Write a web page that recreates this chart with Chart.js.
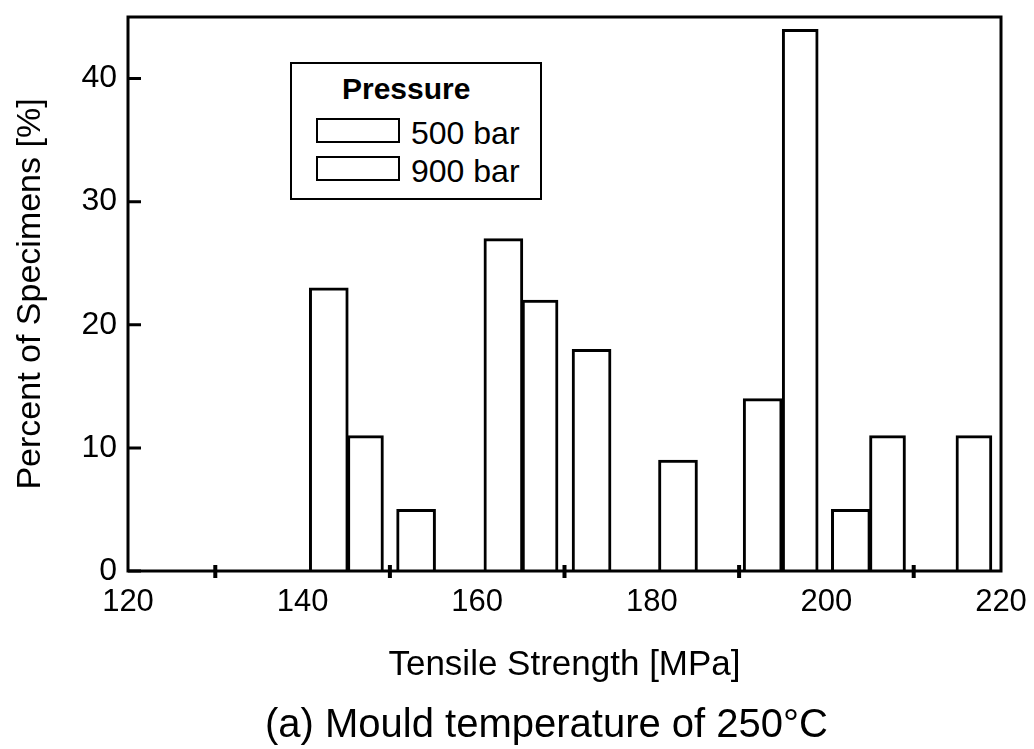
<!DOCTYPE html>
<html>
<head>
<meta charset="utf-8">
<script src="https://cdn.jsdelivr.net/npm/chart.js@4/dist/chart.umd.min.js"></script>
<style>
  body { margin: 0; background: #fff; }
  #wrap { position: relative; width: 1034px; height: 749px; font-family: 'Liberation Sans', Arial, sans-serif; color: #000; }
  #legend {
    position: absolute; left: 290px; top: 62px; width: 248px; height: 134px;
    border: 2px solid #000; background: #fff;
  }
  #legend .ttl { position: absolute; left: 50px; top: 10px; font-size: 30px; line-height: 30px; font-weight: bold; }
  #legend .box { position: absolute; left: 24px; width: 80px; height: 21px; border: 2px solid #000; background: #fff; }
  #legend .lbl { position: absolute; left: 119px; font-size: 32px; line-height: 32px; }
  #caption { position: absolute; left: 265px; top: 703px; font-size: 40px; line-height: 40px; white-space: nowrap; }
</style>
</head>
<body>
<div id="wrap">
  <canvas id="chart" width="1034" height="749"></canvas>
  <div id="legend"></div>
  <div id="caption"></div>
</div>
<script>
// Tensile strength histogram, mould temperature 250 C
const captionText = '(a) Mould temperature of 250\u00b0C';
const legendTitle = 'Pressure';
const seriesNames = ['500 bar', '900 bar'];

// bar centres [MPa] and share of specimens [%]
const x500 = [143.0, 153.0, 163.0, 173.1, 183.0, 192.7, 202.8];
const pct500 = [23, 5, 27, 18, 9, 14, 5];
const x900 = [147.2, 167.2, 197.0, 207.0, 216.9];
const pct900 = [11, 22, 44, 11, 11];

const xMinorTicks = [130, 150, 170, 190, 210];

const FONT = "'Liberation Sans', Arial, sans-serif";
Chart.defaults.color = '#000';
Chart.defaults.font.family = FONT;

// frame round the plot, inward y ticks, crossing minor x ticks
const frameAndTicks = {
  id: 'frameAndTicks',
  afterDatasetsDraw(chart) {
    const { ctx, chartArea: a, scales: { x, y } } = chart;
    ctx.save();
    ctx.strokeStyle = '#000';
    ctx.lineWidth = 3;
    ctx.strokeRect(a.left, a.top, a.right - a.left, a.bottom - a.top);
    ctx.beginPath();
    y.ticks.forEach(t => {
      const py = y.getPixelForValue(t.value);
      ctx.moveTo(a.left, py);
      ctx.lineTo(a.left + 13, py);
    });
    ctx.stroke();
    ctx.lineWidth = 4;
    ctx.beginPath();
    xMinorTicks.forEach(v => {
      const px = x.getPixelForValue(v);
      ctx.moveTo(px, a.bottom - 6);
      ctx.lineTo(px, a.bottom + 7);
    });
    ctx.stroke();
    ctx.restore();
  }
};

function barSet(label, xs, ys, thickness) {
  return {
    label: label,
    data: xs.map((v, i) => ({ x: v, y: ys[i] })),
    backgroundColor: '#fff',
    borderColor: '#000',
    borderWidth: 3,
    borderSkipped: 'bottom',
    barThickness: thickness,
    grouped: false
  };
}

const chart = new Chart(document.getElementById('chart'), {
  type: 'bar',
  data: {
    datasets: [
      barSet(seriesNames[0], x500, pct500, 39),
      barSet(seriesNames[1], x900, pct900, 36)
    ]
  },
  options: {
    responsive: false,
    animation: false,
    layout: { padding: { top: 17, right: 33, left: 0, bottom: 58 } },
    plugins: {
      legend: { display: false },
      tooltip: { enabled: false }
    },
    scales: {
      x: {
        type: 'linear',
        min: 120,
        max: 220,
        offset: false,
        grid: { display: false, drawTicks: false },
        border: { display: false },
        ticks: { stepSize: 20, maxRotation: 0, padding: 13, font: { size: 31 } },
        title: {
          display: true,
          text: 'Tensile Strength [MPa]',
          font: { size: 35 },
          padding: { top: 0, bottom: 5 }
        },
        afterFit: s => {
          s.height = 120;
          s.paddingLeft = 0;
          s.paddingRight = 0;
        }
      },
      y: {
        min: 0,
        max: 45,
        grid: { display: false, drawTicks: false },
        border: { display: false },
        ticks: { stepSize: 10, includeBounds: false, padding: 11, font: { size: 32 } },
        title: {
          display: true,
          text: 'Percent of Specimens [%]',
          font: { size: 34 },
          padding: { top: 10, bottom: 0 }
        },
        afterFit: s => {
          s.width = 128;
          s.paddingTop = 0;
          s.paddingBottom = 0;
        }
      }
    }
  },
  plugins: [frameAndTicks]
});

// legend box drawn as html, entries taken from the datasets
const legend = document.getElementById('legend');
let html = '<div class="ttl">' + legendTitle + '</div>';
chart.data.datasets.forEach((ds, i) => {
  html += '<div class="box" style="top:' + (54 + i * 38) + 'px"></div>';
  html += '<div class="lbl" style="top:' + (53 + i * 38) + 'px">' + ds.label + '</div>';
});
legend.innerHTML = html;
document.getElementById('caption').textContent = captionText;
</script>
</body>
</html>
